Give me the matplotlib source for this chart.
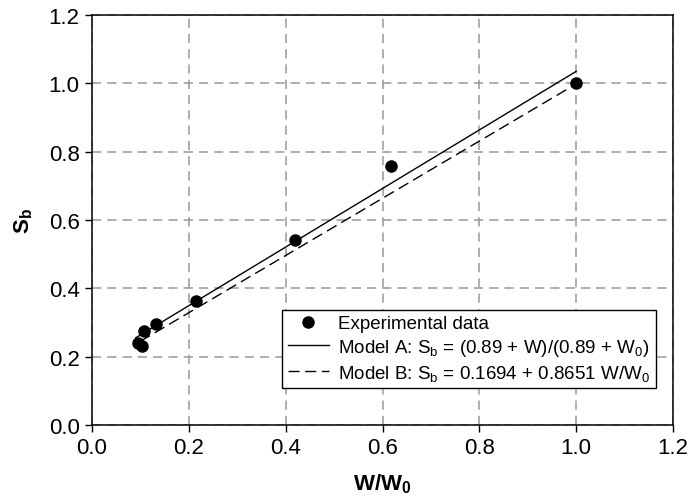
import matplotlib
matplotlib.use("Agg")
from matplotlib import pyplot as plt
from matplotlib.ticker import FormatStrFormatter

plt.rcParams['font.family'] = ['Liberation Sans', 'DejaVu Sans']
plt.rcParams['mathtext.default'] = 'regular'

# experimental points (W/W0, Sb)
exp_x = [0.095, 0.104, 0.107, 0.132, 0.214, 0.419, 0.618, 1.0]
exp_y = [0.239, 0.232, 0.276, 0.295, 0.362, 0.542, 0.758, 1.0]

# model lines, read as end points
model_a_x = [0.09, 1.0]
model_a_y = [0.255, 1.035]
model_b_x = [0.10, 0.99]
model_b_y = [0.245, 0.99]

ticks = [0.0, 0.2, 0.4, 0.6, 0.8, 1.0, 1.2]

fig = plt.figure(figsize=(6.9, 5.02), dpi=100)
ax = fig.add_axes([92 / 690, 1 - 426 / 502, 581 / 690, 410 / 502])

ax.plot(exp_x, exp_y, 'o', color='black', markersize=8, label='Experimental data', zorder=4)
ax.plot(model_a_x, model_a_y, '-', color='black', linewidth=1.0,
        label='Model A: S$_b$ = (0.89 + W)/(0.89 + W$_0$)', zorder=3)
ax.plot(model_b_x, model_b_y, color='black', linewidth=1.0, dashes=(8, 4),
        label='Model B: S$_b$ = 0.1694 + 0.8651 W/W$_0$', zorder=3)

ax.set_xlim(0, 1.2)
ax.set_ylim(0, 1.2)
ax.set_xticks(ticks)
ax.set_yticks(ticks)
ax.xaxis.set_major_formatter(FormatStrFormatter('%.1f'))
ax.yaxis.set_major_formatter(FormatStrFormatter('%.1f'))
ax.tick_params(direction='out', length=5, width=1, labelsize=16, colors='black', pad=4)

ax.grid(True, color='#999999', linewidth=1.1, dashes=(6, 4))
ax.set_axisbelow(True)
for sp in ax.spines.values():
    sp.set_linewidth(1.1)
    sp.set_color('black')

ax.set_xlabel('W/W$_0$', fontsize=16, fontweight='bold', labelpad=9)
ax.set_ylabel('S$_b$', fontsize=16, fontweight='bold', labelpad=10)

leg = ax.legend(loc='lower right', bbox_to_anchor=(0.9705, 0.0895), borderaxespad=0,
                fontsize=13.5, frameon=True, fancybox=False, framealpha=1,
                edgecolor='black', handlelength=2.2, handletextpad=0.5,
                labelspacing=0.25, borderpad=0.3)
leg.get_frame().set_linewidth(1.0)

fig.savefig('out.png', dpi=100)
